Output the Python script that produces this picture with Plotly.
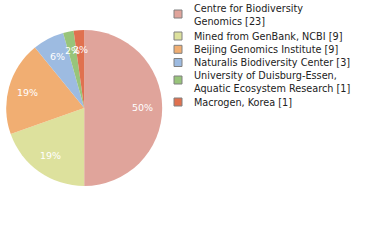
import math
import plotly.graph_objects as go

labels = ["Centre for Biodiversity<br>Genomics [23]",
          "Mined from GenBank, NCBI [9]",
          "Beijing Genomics Institute [9]",
          "Naturalis Biodiversity Center [3]",
          "University of Duisburg-Essen,<br>Aquatic Ecosystem Research [1]",
          "Macrogen, Korea [1]"]
values = [23, 9, 9, 3, 1, 1]
colors = ["#e0a49b", "#dde19d", "#f1ae72", "#9dbbe1", "#98c47a", "#e0714f"]

W, H = 380, 240
cx, cy, R = 84.2, 108, 78
total = sum(values)
pct = [f"{int(v * 100 // total)}%" for v in values]

fig = go.Figure()
fig.add_trace(go.Pie(
    values=values, labels=labels, sort=False, direction="clockwise", rotation=0,
    marker=dict(colors=colors, line=dict(width=0)),
    textinfo="none", hoverinfo="label+percent", showlegend=False,
    domain=dict(x=[(cx - R) / W, (cx + R) / W], y=[(H - cy - R) / H, (H - cy + R) / H]),
))

# percentage labels placed at 0.75 radius, mid-angle of each slice
cum = 0
for v, t in zip(values, pct):
    mid = (cum + v / 2) / total * 2 * math.pi
    cum += v
    px = cx + 0.75 * R * math.sin(mid)
    py = cy - 0.75 * R * math.cos(mid)
    fig.add_annotation(x=px / W, y=1 - py / H, xref="paper", yref="paper",
                       text=t, showarrow=False, xanchor="center", yanchor="middle",
                       font=dict(family="DejaVu Sans", size=9.5, color="white"))

# legend
row_y = [14, 36, 49.3, 62.5, 80, 102]
for lab, col, yy in zip(labels, colors, row_y):
    fig.add_shape(type="rect", xref="paper", yref="paper",
                  x0=174 / W, x1=182 / W, y0=1 - (yy - 4) / H, y1=1 - (yy + 4) / H,
                  fillcolor=col, line=dict(color="#808080", width=1))
    ty = yy + (1.5 if "<br>" in lab else 0)
    fig.add_annotation(x=192 / W, y=1 - ty / H, xref="paper", yref="paper",
                       text=lab, showarrow=False, xanchor="left", yanchor="middle",
                       align="left",
                       font=dict(family="DejaVu Sans", size=9.7, color="#222222"))

fig.update_layout(width=W, height=H, margin=dict(l=0, r=0, t=0, b=0),
                  paper_bgcolor="white", plot_bgcolor="white")
fig.write_html("out.html")
